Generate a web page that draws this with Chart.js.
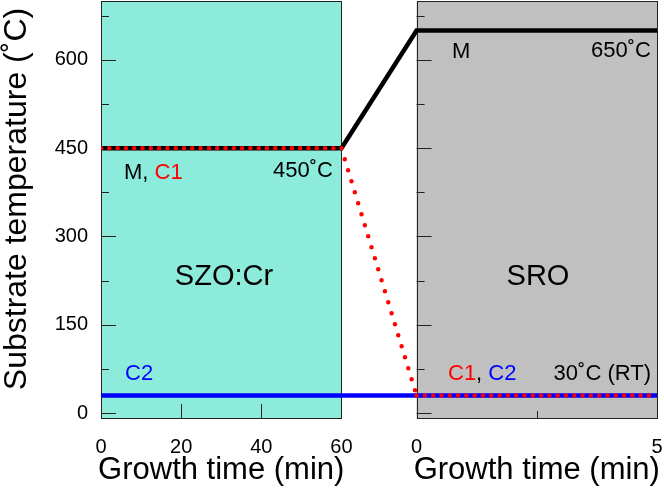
<!DOCTYPE html>
<html><head><meta charset="utf-8">
<script src="https://cdn.jsdelivr.net/npm/chart.js@4/dist/chart.umd.min.js"></script>
<style>html,body{margin:0;padding:0;background:#fff}</style>
</head><body>
<canvas id="c" width="664" height="488"></canvas>
<script>
// ---- data ----
const panelLeftTime = [0, 60];      // min (SZO:Cr growth)
const panelRightTime = [0, 5];      // min (SRO growth)
const M_left = [450, 450];
const M_right = [650, 650];
const C1_left = [450, 450];
const C1_right = [30, 30];
const C2_left = [30, 30];
const C2_right = [30, 30];
const xTickLabelsLeft = [0, 20, 40, 60];
const xTickLabelsRight = [0, 5];
const xMajorInnerLeft = [20, 40];
const xMinorInnerRight = [2.5];
const yTickValues = [0, 150, 300, 450, 600];
const yMinorValues = [75, 225, 375, 525, 675];
const yRange = [-10, 700];

// ---- broken x-axis mapping (left 0-60 min, gap, right 0-5 min) ----
const GAP = 18.75, RSCALE = 12, LEFT_END = 60;
const uL = x => x;
const uR = x => LEFT_END + GAP + x * RSCALE;
const U_MAX = uR(panelRightTime[panelRightTime.length - 1]);

function series(l, r) {
  return panelLeftTime.map((t, i) => ({x: uL(t), y: l[i]}))
    .concat(panelRightTime.map((t, i) => ({x: uR(t), y: r[i]})));
}
const xTickValues = xTickLabelsLeft.map(uL).concat(xTickLabelsRight.map(uR));
const xTickText = xTickLabelsLeft.concat(xTickLabelsRight).map(String);

const FONT = "'Liberation Sans', Arial, sans-serif";

function noPad(s) { s.paddingLeft = 0; s.paddingRight = 0; s.paddingTop = 0; s.paddingBottom = 0; }

const decor = {
  id: 'decor',
  beforeDatasetsDraw(chart) {
    const ctx = chart.ctx, xs = chart.scales.x, ys = chart.scales.y;
    const top = ys.getPixelForValue(yRange[1]), bottom = ys.getPixelForValue(yRange[0]);
    const panels = [
      {x0: xs.getPixelForValue(uL(0)), x1: xs.getPixelForValue(uL(60)), fill: '#8CEBDA'},
      {x0: xs.getPixelForValue(uR(0)), x1: xs.getPixelForValue(uR(5)), fill: '#C0C0C0'}
    ];
    ctx.save();
    panels.forEach(p => {
      ctx.fillStyle = p.fill;
      ctx.fillRect(p.x0, top, p.x1 - p.x0, bottom - top);
    });
    ctx.strokeStyle = '#222';
    ctx.lineWidth = 1;
    panels.forEach(p => {
      ctx.strokeRect(Math.round(p.x0) + 0.5, Math.round(top) + 0.5, Math.round(p.x1 - p.x0), Math.round(bottom - top) - 1);
      // y ticks (inward)
      yTickValues.concat(yMinorValues).forEach(v => {
        const py = Math.round(ys.getPixelForValue(v)) + 0.5;
        const len = yTickValues.includes(v) ? 15 : 8;
        ctx.beginPath(); ctx.moveTo(p.x0, py); ctx.lineTo(p.x0 + len, py); ctx.stroke();
      });
    });
    // x ticks (inward)
    xMajorInnerLeft.forEach(v => {
      const px = Math.round(xs.getPixelForValue(uL(v))) + 0.5;
      ctx.beginPath(); ctx.moveTo(px, bottom); ctx.lineTo(px, bottom - 15); ctx.stroke();
    });
    xMinorInnerRight.forEach(v => {
      const px = Math.round(xs.getPixelForValue(uR(v))) + 0.5;
      ctx.beginPath(); ctx.moveTo(px, bottom); ctx.lineTo(px, bottom - 8); ctx.stroke();
    });
    ctx.restore();
  },
  afterDatasetsDraw(chart) {
    const ctx = chart.ctx, xs = chart.scales.x, ys = chart.scales.y;
    ctx.save();
    ctx.textBaseline = 'middle';
    const notes = [
      {parts: [['M, ', '#000'], ['C1', '#f00']], x: 124, y: 173, align: 'left', size: 22},
      {parts: [['450˚C', '#000']], x: 333, y: 171, align: 'right', size: 22},
      {parts: [['SZO:Cr', '#000']], x: 224, y: 277, align: 'center', size: 29},
      {parts: [['SRO', '#000']], x: 538, y: 277, align: 'center', size: 29},
      {parts: [['M', '#000']], x: 452, y: 52, align: 'left', size: 22},
      {parts: [['650˚C', '#000']], x: 651, y: 51, align: 'right', size: 22},
      {parts: [['C2', '#00f']], x: 125, y: 374, align: 'left', size: 22},
      {parts: [['C1', '#f00'], [', ', '#000'], ['C2', '#00f']], x: 448, y: 374, align: 'left', size: 22},
      {parts: [['30˚C (RT)', '#000']], x: 651, y: 374, align: 'right', size: 22}
    ];
    notes.forEach(n => {
      ctx.font = n.size + 'px ' + FONT;
      const total = n.parts.reduce((s, p) => s + ctx.measureText(p[0]).width, 0);
      let x = n.align === 'left' ? n.x : n.align === 'right' ? n.x - total : n.x - total / 2;
      ctx.textAlign = 'left';
      n.parts.forEach(p => {
        ctx.fillStyle = p[1];
        ctx.fillText(p[0], x, n.y);
        x += ctx.measureText(p[0]).width;
      });
    });
    // axis titles
    ctx.fillStyle = '#000';
    ctx.font = '31px ' + FONT;
    ctx.textAlign = 'center';
    const lc = (xs.getPixelForValue(uL(0)) + xs.getPixelForValue(uL(60))) / 2;
    const rc = (xs.getPixelForValue(uR(0)) + xs.getPixelForValue(uR(5))) / 2;
    ctx.fillText('Growth time (min)', lc, 470);
    ctx.fillText('Growth time (min)', rc, 470);
    ctx.font = '32px ' + FONT;
    ctx.translate(17, 199);
    ctx.rotate(-Math.PI / 2);
    ctx.fillText('Substrate temperature (˚C)', 0, 0);
    ctx.restore();
  }
};

new Chart(document.getElementById('c'), {
  type: 'line',
  data: {
    datasets: [
      {label: 'C1', data: series(C1_left, C1_right), borderColor: '#ff0000', borderWidth: 4.5,
       borderCapStyle: 'round', borderDash: [0, 8.3], order: 0, pointRadius: 0,
       segment: {borderDash: c => c.p0DataIndex === 1 ? [0, 11.5] : [0, 8.3]}},
      {label: 'M', data: series(M_left, M_right), borderColor: '#000', borderWidth: 4.5, order: 1, pointRadius: 0},
      {label: 'C2', data: series(C2_left, C2_right), borderColor: '#0000ff', borderWidth: 4.5, order: 2, pointRadius: 0}
    ]
  },
  options: {
    responsive: false,
    animation: false,
    events: [],
    layout: {padding: {top: 1, right: 7, left: 0, bottom: 0}},
    plugins: {legend: {display: false}, tooltip: {enabled: false}},
    elements: {line: {tension: 0}},
    scales: {
      x: {
        type: 'linear', min: 0, max: U_MAX,
        grid: {display: false, drawTicks: false}, border: {display: false},
        afterBuildTicks: s => { s.ticks = xTickValues.map(v => ({value: v})); },
        afterFit: s => { s.height = 69; noPad(s); },
        ticks: {autoSkip: false, maxRotation: 0, padding: 16, color: '#000',
          font: {family: FONT, size: 20},
          callback: (v, i) => xTickText[i]}
      },
      y: {
        type: 'linear', min: yRange[0], max: yRange[1],
        grid: {display: false, drawTicks: false}, border: {display: false},
        afterBuildTicks: s => { s.ticks = yTickValues.concat(yMinorValues).sort((a, b) => a - b).map(v => ({value: v})); },
        afterFit: s => { s.width = 101; noPad(s); },
        ticks: {autoSkip: false, padding: 13, color: '#000',
          font: {family: FONT, size: 20},
          callback: v => yTickValues.includes(v) ? String(v) : ''}
      }
    }
  },
  plugins: [decor]
});
</script>
</body></html>
